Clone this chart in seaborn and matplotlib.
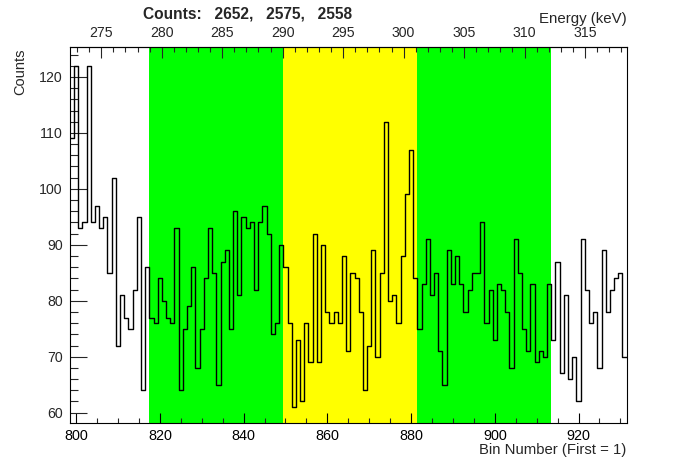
import numpy as np
import pandas as pd
import matplotlib
matplotlib.use('Agg')
import matplotlib.pyplot as plt
import seaborn as sns
from matplotlib.ticker import MultipleLocator

# Bin numbers and counts
first_bin = 799
counts = [109, 122, 93, 94, 122, 94, 97, 93, 95, 85, 102, 72, 81, 77, 75, 82, 95, 64, 86,
          # left green window 818-849
          77, 76, 84, 80, 77, 76, 93, 64, 75, 79, 86, 68, 75, 84, 93, 85,
          65, 87, 89, 75, 96, 81, 95, 93, 94, 82, 94, 97, 92, 74, 76, 90,
          # yellow window 850-881
          86, 76, 61, 73, 62, 76, 69, 92, 69, 90, 78, 76, 78, 76, 88, 71,
          85, 84, 78, 64, 72, 89, 70, 85, 112, 80, 81, 76, 88, 99, 107, 84,
          # right green window 882-913
          75, 83, 91, 81, 85, 71, 65, 89, 83, 88, 83, 78, 82, 85, 85, 94,
          76, 82, 73, 83, 82, 78, 68, 91, 85, 75, 71, 83, 69, 71, 70, 83,
          # 914-931
          73, 87, 67, 81, 66, 70, 62, 91, 82, 76, 78, 68, 89, 78, 82, 84, 85, 70]
bins = np.arange(first_bin, first_bin + len(counts))

# windows (first bin, last bin) and colours
windows = [(818, 849), (850, 881), (882, 913)]
window_colors = ['#00ff00', '#ffff00', '#00ff00']

# energy calibration keV = e0 + slope * (bin - 800)
e0 = 272.92
slope = 0.34617

def bin2e(b):
    return e0 + slope * (np.asarray(b) - 800)

def e2bin(e):
    return 800 + (np.asarray(e) - e0) / slope

sns.set_style('ticks')
plt.rcParams['font.family'] = ['Liberation Sans', 'DejaVu Sans']

df = pd.DataFrame({'bin': bins, 'counts': counts})

fig = plt.figure(figsize=(6.96, 4.72), dpi=100)
ax = fig.add_axes([0.1003, 0.1032, 0.8001, 0.7966])

for (lo, hi), c in zip(windows, window_colors):
    ax.axvspan(lo - 0.5, hi + 0.5, color=c, lw=0, zorder=0)

edges = list(np.append(bins - 0.5, bins[-1] + 0.5))
sns.histplot(data=df, x='bin', weights='counts', bins=edges, element='step', fill=False,
             color='black', linewidth=1.0, ax=ax, zorder=3)

ax.set_xlim(edges[0], edges[-1])
ax.set_ylim(58.1, 125.3)
ax.set_xlabel('')
ax.set_ylabel('')

ax.xaxis.set_major_locator(MultipleLocator(20))
ax.xaxis.set_minor_locator(MultipleLocator(5))
ax.yaxis.set_major_locator(MultipleLocator(10))
ax.yaxis.set_minor_locator(MultipleLocator(2))
ax.tick_params(axis='x', which='major', direction='in', length=7.2, width=0.8,
               labelsize=10.4, pad=4, top=False, colors='black')
ax.tick_params(axis='x', which='minor', direction='in', length=3.6, width=0.8, top=False)
ax.tick_params(axis='y', which='major', direction='in', length=12.2, width=0.8,
               labelsize=10.2, pad=5, right=False)
ax.tick_params(axis='y', which='minor', direction='in', length=5.8, width=0.8, right=False)

for s in ax.spines.values():
    s.set_linewidth(0.8)
    s.set_color('black')
    s.set_zorder(5)

top = ax.secondary_xaxis('top', functions=(bin2e, e2bin))
top.xaxis.set_major_locator(MultipleLocator(5))
top.xaxis.set_minor_locator(MultipleLocator(1))
top.tick_params(which='major', direction='in', length=8, width=0.8, labelsize=10.2, pad=5)
top.tick_params(which='minor', direction='in', length=3.6, width=0.8)
top.spines['top'].set_linewidth(0.8)

sums = [sum(counts[lo - first_bin:hi - first_bin + 1]) for lo, hi in windows]
fig.text(0.3556, 0.97, 'Counts:   ' + ',   '.join(str(s) for s in sums),
         ha='center', va='center', fontsize=11.2, fontweight='bold')
fig.text(0.9, 0.96, 'Energy (keV)', ha='right', va='center', fontsize=10.8)
fig.text(0.9, 0.047, 'Bin Number (First = 1)', ha='right', va='center', fontsize=10.7)
# y title sits at the top end of the axis, as ROOT does
fig.text(0.029, 0.898, 'Counts', ha='center', va='top', rotation=90, fontsize=10.5)

fig.savefig('out.png', dpi=100)
